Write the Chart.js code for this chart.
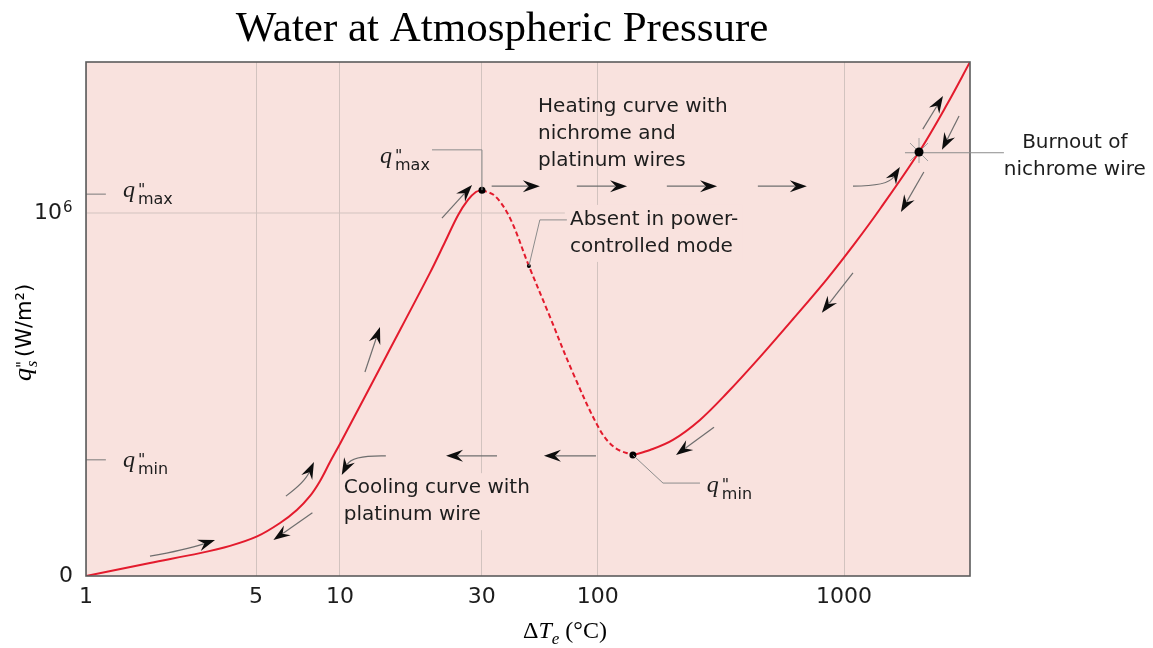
<!DOCTYPE html>
<html>
<head>
<meta charset="utf-8">
<title>Water at Atmospheric Pressure</title>
<script src="https://cdn.jsdelivr.net/npm/chart.js@4.4.1/dist/chart.umd.min.js"></script>
<style>
  html, body { margin: 0; padding: 0; background: #fff; }
  #wrap { width: 1153px; height: 648px; position: relative; }
</style>
</head>
<body>
<div id="wrap"><canvas id="boil"></canvas></div>
<script>
(function () {
  'use strict';

  // x = position along the schematic log ΔTe axis (≈ one unit per decade from ΔTe = 1)
  // y = heat flux in units of 10^6 W/m²
  var tickPos = [0, 0.667, 0.996, 1.552, 2.007, 2.973];
  var tickLabels = ['1', '5', '10', '30', '100', '1000'];
  var xMax = 3.467;
  var yMax = 1.416;
  var yTickPos = [0, 1];
  var yTickLabels = ['0', '10'];
  var yTickSup = ['', '6'];
  var qMaxLevel = 1.052;
  var qMinLevel = 0.320;

  // nucleate boiling, up to q"max
  var nucX = [0, 0.251, 0.447, 0.565, 0.671, 0.761, 0.827, 0.878, 0.918, 0.957, 1.000, 1.180, 1.349, 1.408, 1.459, 1.498, 1.529, 1.553];
  var nucY = [0, 0.036, 0.063, 0.083, 0.109, 0.146, 0.182, 0.220, 0.262, 0.314, 0.369, 0.609, 0.835, 0.920, 0.994, 1.036, 1.058, 1.063];
  // transition boiling (dashed, absent in power-controlled mode)
  var transX = [1.553, 1.604, 1.663, 1.737, 1.812, 1.910, 2.016, 2.075, 2.145];
  var transY = [1.063, 1.047, 0.986, 0.854, 0.727, 0.559, 0.402, 0.353, 0.333];
  // film boiling, from q"min to burnout and beyond
  var filmX = [2.145, 2.212, 2.302, 2.408, 2.514, 2.643, 2.773, 2.906, 3.016, 3.114, 3.267, 3.376, 3.467];
  var filmY = [0.333, 0.347, 0.375, 0.430, 0.504, 0.603, 0.708, 0.818, 0.917, 1.011, 1.168, 1.298, 1.416];

  // q"max, q"min, burnout, leader tick on the dashed part
  var dotX = [1.553, 2.145, 3.267, 1.737];
  var dotY = [1.063, 0.333, 1.168, 0.854];
  var dotR = [3.5, 3.5, 4.5, 2];

  // direction arrows: tail, head, optional bend point
  var arrowFrom = [[0.251, 0.055], [0.784, 0.220], [0.888, 0.174], [1.094, 0.562], [1.396, 0.986],
    [1.591, 1.074], [1.925, 1.074], [2.278, 1.074], [2.635, 1.074], [3.008, 1.074],
    [3.282, 1.231], [3.424, 1.267], [3.286, 1.113], [3.008, 0.835], [2.463, 0.410],
    [2.000, 0.331], [1.612, 0.331], [1.176, 0.331]];
  var arrowTo = [[0.506, 0.099], [0.894, 0.314], [0.735, 0.099], [1.153, 0.686], [1.514, 1.077],
    [1.780, 1.074], [2.122, 1.074], [2.475, 1.074], [2.827, 1.074], [3.192, 1.127],
    [3.361, 1.322], [3.357, 1.174], [3.196, 1.003], [2.886, 0.725], [2.314, 0.333],
    [1.796, 0.331], [1.412, 0.331], [1.003, 0.278]];
  var arrowBend = [[0.39, 0.072], [0.857, 0.258], null, null, null,
    null, null, null, null, [3.145, 1.074],
    null, null, null, null, null,
    null, null, [1.043, 0.333]];

  // leader lines
  var leaderQmax = [[1.357, 1.174], [1.553, 1.174], [1.553, 1.063]];
  var leaderAbsent = [[1.737, 0.854], [1.780, 0.981], [1.886, 0.981]];
  var leaderQmin = [[2.145, 0.333], [2.263, 0.256], [2.408, 0.256]];
  var leaderBurnout = [[3.212, 1.166], [3.600, 1.166]];
  var gridMega = [[0, 1], [1.878, 1]];
  var tickQmax = [[0, qMaxLevel], [0.078, qMaxLevel]];
  var tickQmin = [[0, qMinLevel], [0.078, qMinLevel]];

  // text notes
  var heatingLines = ['Heating curve with', 'nichrome and', 'platinum wires'];
  var heatingAt = [1.773, 1.292];
  var absentLines = ['Absent in power-', 'controlled mode'];
  var absentAt = [1.898, 0.981];
  var coolingLines = ['Cooling curve with', 'platinum wire'];
  var coolingAt = [1.011, 0.242];
  var burnoutLines = ['Burnout of', 'nichrome wire'];
  var burnoutAt = [3.878, 1.194];

  var qLabelSub = ['max', 'min', 'max', 'min'];
  var qLabelX = [0.145, 0.145, 1.153, 2.435];
  var qLabelY = [1.044, 0.300, 1.138, 0.231];

  var PLOT_BG = '#f9e2de';
  var GRID = '#d2c3bf';
  var CURVE = '#e31b2d';
  var SHAFT = '#6e6e6e';
  var LEADER = '#8c8c8c';
  var INK = '#1d1d1d';
  var SANS = '"DejaVu Sans", sans-serif';
  var SERIF = '"Liberation Serif", "DejaVu Serif", serif';

  function pts(xs, ys) {
    return xs.map(function (x, i) {
      return { x: x, y: ys[i] };
    });
  }

  function toPx(chart, p) {
    return [chart.scales.x.getPixelForValue(p[0]), chart.scales.y.getPixelForValue(p[1])];
  }

  function polyline(ctx, chart, list) {
    ctx.beginPath();
    list.forEach(function (p, i) {
      var q = toPx(chart, p);
      if (i === 0) ctx.moveTo(q[0], q[1]);
      else ctx.lineTo(q[0], q[1]);
    });
    ctx.stroke();
  }

  function arrow(ctx, t, h, c) {
    var from = c || t;
    var dx = h[0] - from[0], dy = h[1] - from[1];
    var len = Math.sqrt(dx * dx + dy * dy) || 1;
    var ux = dx / len, uy = dy / len;
    var L = 17, W = 6;
    var bx = h[0] - ux * L * 0.7, by = h[1] - uy * L * 0.7;
    ctx.strokeStyle = SHAFT;
    ctx.lineWidth = 1.2;
    ctx.beginPath();
    ctx.moveTo(t[0], t[1]);
    if (c) ctx.quadraticCurveTo(c[0], c[1], bx, by);
    else ctx.lineTo(bx, by);
    ctx.stroke();
    ctx.fillStyle = '#0d0d0d';
    ctx.beginPath();
    ctx.moveTo(h[0], h[1]);
    ctx.lineTo(h[0] - ux * L - uy * W, h[1] - uy * L + ux * W);
    ctx.lineTo(h[0] - ux * L * 0.66, h[1] - uy * L * 0.66);
    ctx.lineTo(h[0] - ux * L + uy * W, h[1] - uy * L - ux * W);
    ctx.closePath();
    ctx.fill();
  }

  function textBlock(ctx, chart, lines, at, align, mask) {
    var p = toPx(chart, at);
    ctx.font = '20px ' + SANS;
    ctx.textBaseline = 'middle';
    ctx.textAlign = align;
    if (mask) {
      var w = Math.max.apply(null, lines.map(function (s) { return ctx.measureText(s).width; }));
      ctx.fillStyle = PLOT_BG;
      ctx.fillRect(p[0] - 4, p[1] - 15, w + 8, 27 * (lines.length - 1) + 30);
      return;
    }
    ctx.fillStyle = INK;
    lines.forEach(function (s, i) {
      ctx.fillText(s, p[0], p[1] + 27 * i);
    });
  }

  function drawQ(ctx, x, yb, sub) {
    ctx.fillStyle = INK;
    ctx.textAlign = 'left';
    ctx.textBaseline = 'alphabetic';
    ctx.font = 'italic 24px ' + SERIF;
    ctx.fillText('q', x, yb);
    ctx.font = '16px ' + SANS;
    ctx.fillText('"', x + 15, yb - 2);
    ctx.fillText(sub, x + 15, yb + 7);
  }

  var decor = {
    id: 'decor',
    beforeDraw: function (chart) {
      var a = chart.chartArea, ctx = chart.ctx;
      ctx.save();
      ctx.fillStyle = PLOT_BG;
      ctx.fillRect(a.left, a.top, a.right - a.left, a.bottom - a.top);
      ctx.restore();
    },
    beforeDatasetsDraw: function (chart) {
      var ctx = chart.ctx;
      ctx.save();
      textBlock(ctx, chart, absentLines, absentAt, 'left', true);
      textBlock(ctx, chart, coolingLines, coolingAt, 'left', true);
      ctx.strokeStyle = GRID;
      ctx.lineWidth = 1;
      polyline(ctx, chart, gridMega);
      ctx.strokeStyle = '#7a7a7a';
      polyline(ctx, chart, tickQmax);
      polyline(ctx, chart, tickQmin);
      ctx.restore();
    },
    afterDatasetsDraw: function (chart) {
      var ctx = chart.ctx, a = chart.chartArea;
      ctx.save();
      // frame
      ctx.strokeStyle = '#5c5c5c';
      ctx.lineWidth = 1.6;
      ctx.strokeRect(a.left, a.top, a.right - a.left, a.bottom - a.top);

      // leaders
      ctx.strokeStyle = LEADER;
      ctx.lineWidth = 1;
      polyline(ctx, chart, leaderQmax);
      polyline(ctx, chart, leaderAbsent);
      polyline(ctx, chart, leaderQmin);
      polyline(ctx, chart, leaderBurnout);

      // burnout flash
      var b = toPx(chart, [dotX[2], dotY[2]]);
      ctx.strokeStyle = '#a0a0a0';
      ctx.beginPath();
      ctx.moveTo(b[0], b[1] - 14); ctx.lineTo(b[0], b[1] + 11);
      ctx.moveTo(b[0] - 9, b[1] - 9); ctx.lineTo(b[0] + 9, b[1] + 9);
      ctx.moveTo(b[0] + 9, b[1] - 9); ctx.lineTo(b[0] - 9, b[1] + 9);
      ctx.stroke();
      ctx.fillStyle = '#000';
      ctx.beginPath();
      ctx.arc(b[0], b[1], dotR[2], 0, Math.PI * 2);
      ctx.fill();

      // arrows
      arrowFrom.forEach(function (f, i) {
        arrow(ctx, toPx(chart, f), toPx(chart, arrowTo[i]), arrowBend[i] ? toPx(chart, arrowBend[i]) : null);
      });

      // notes
      textBlock(ctx, chart, heatingLines, heatingAt, 'left', false);
      textBlock(ctx, chart, absentLines, absentAt, 'left', false);
      textBlock(ctx, chart, coolingLines, coolingAt, 'left', false);
      textBlock(ctx, chart, burnoutLines, burnoutAt, 'center', false);

      qLabelSub.forEach(function (s, i) {
        var p = toPx(chart, [qLabelX[i], qLabelY[i]]);
        drawQ(ctx, p[0], p[1], s);
      });
      ctx.restore();
    },
    afterDraw: function (chart) {
      var ctx = chart.ctx;
      ctx.save();
      ctx.textBaseline = 'alphabetic';

      // superscript exponents on the y tick labels
      ctx.fillStyle = INK;
      ctx.font = '15px ' + SANS;
      ctx.textAlign = 'left';
      yTickPos.forEach(function (v, i) {
        if (!yTickSup[i]) return;
        ctx.fillText(yTickSup[i], 63, chart.scales.y.getPixelForValue(v) - 1);
      });

      // title
      ctx.fillStyle = '#000';
      ctx.textAlign = 'center';
      ctx.font = '43px ' + SERIF;
      ctx.fillText('Water at Atmospheric Pressure', 502, 41);

      // x title: ΔT_e (°C)
      ctx.textAlign = 'left';
      var parts = [
        ['\u0394', '24px ' + SERIF, 0],
        ['T', 'italic 24px ' + SERIF, 0],
        ['e', 'italic 17px ' + SERIF, 6],
        [' (\u00b0C)', '24px ' + SERIF, 0]
      ];
      var total = 0;
      parts.forEach(function (p) { ctx.font = p[1]; total += ctx.measureText(p[0]).width; });
      var x = 565 - total / 2;
      parts.forEach(function (p) {
        ctx.font = p[1];
        ctx.fillText(p[0], x, 638 + p[2]);
        x += ctx.measureText(p[0]).width;
      });

      // y title: q"_s (W/m²)
      ctx.translate(31, 381);
      ctx.rotate(-Math.PI / 2);
      ctx.font = 'italic 26px ' + SERIF;
      ctx.fillText('q', 0, 0);
      ctx.font = '15px ' + SANS;
      ctx.fillText('"', 13, -3);
      ctx.font = 'italic 16px ' + SERIF;
      ctx.fillText('s', 14, 6);
      ctx.font = '21px ' + SANS;
      ctx.fillText('(W/m\u00b2)', 24, 0);
      ctx.restore();
    }
  };

  var lineStyle = {
    borderColor: CURVE,
    borderWidth: 2,
    pointRadius: 0,
    fill: false,
    tension: 0.35
  };

  new Chart(document.getElementById('boil'), {
    type: 'line',
    data: {
      datasets: [
        {
          label: 'points',
          data: pts(dotX.slice(0, 2).concat(dotX.slice(3)), dotY.slice(0, 2).concat(dotY.slice(3))),
          showLine: false,
          pointRadius: dotR.slice(0, 2).concat(dotR.slice(3)),
          pointBackgroundColor: '#000',
          pointBorderWidth: 0
        },
        Object.assign({ label: 'nucleate', data: pts(nucX, nucY) }, lineStyle),
        Object.assign({ label: 'transition', data: pts(transX, transY), borderDash: [5, 3] }, lineStyle),
        Object.assign({ label: 'film', data: pts(filmX, filmY) }, lineStyle)
      ]
    },
    options: {
      responsive: true,
      maintainAspectRatio: false,
      animation: false,
      devicePixelRatio: 1,
      layout: { padding: { top: 62, right: 183, bottom: 0, left: 0 } },
      plugins: { legend: { display: false }, tooltip: { enabled: false }, title: { display: false } },
      scales: {
        x: {
          type: 'linear',
          min: 0,
          max: xMax,
          afterBuildTicks: function (s) {
            s.ticks = tickPos.map(function (v) { return { value: v }; });
          },
          afterFit: function (s) { s.height = 72; },
          ticks: {
            autoSkip: false,
            maxRotation: 0,
            padding: 8,
            color: INK,
            font: { family: 'DejaVu Sans', size: 22 },
            callback: function (v, i) { return tickLabels[i]; }
          },
          grid: { color: GRID, lineWidth: 1, drawTicks: false },
          border: { display: false }
        },
        y: {
          type: 'linear',
          min: 0,
          max: yMax,
          afterBuildTicks: function (s) {
            s.ticks = yTickPos.map(function (v) { return { value: v }; });
          },
          afterFit: function (s) { s.width = 86; },
          ticks: {
            padding: 13,
            color: INK,
            font: { family: 'DejaVu Sans', size: 22 },
            callback: function (v, i) { return yTickLabels[i] + (yTickSup[i] ? '\u2002' : ''); }
          },
          grid: { display: false, drawTicks: false },
          border: { display: false }
        }
      }
    },
    plugins: [decor]
  });
})();
</script>
</body>
</html>
